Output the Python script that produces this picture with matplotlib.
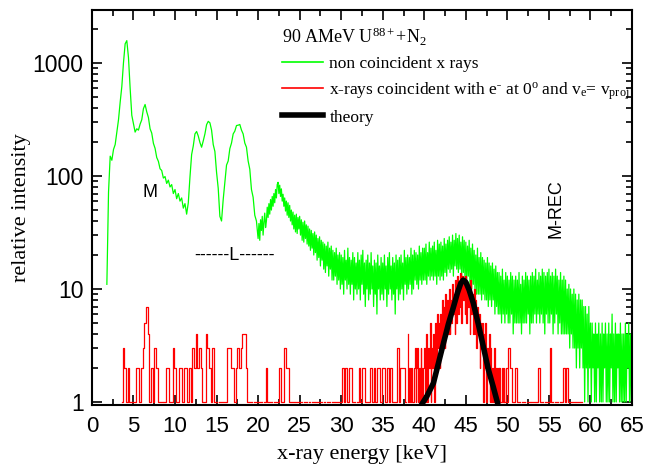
import numpy as np
import matplotlib
matplotlib.use("Agg")
import matplotlib.pyplot as plt
from matplotlib.lines import Line2D
from matplotlib.ticker import FixedLocator, NullFormatter, LogLocator

plt.rcParams['mathtext.fontset'] = 'custom'
plt.rcParams['mathtext.rm'] = 'Liberation Serif'
plt.rcParams['mathtext.it'] = 'Liberation Serif:italic'
plt.rcParams['mathtext.bf'] = 'Liberation Serif:bold'

# ---- data ----
# non coincident spectrum, 1.8-19.8 keV in 0.2 keV channels
green_low_start, green_low_step = 1.8, 0.2
green_low_counts = [
    11, 72, 150, 138, 172, 190, 245, 315, 450, 620,
    1010, 1480, 1580, 1120, 600, 345, 290, 245, 262, 255,
    288, 315, 395, 430, 370, 330, 262, 240, 195, 176,
    146, 135, 116, 112, 96, 99, 86, 92, 80, 84,
    70, 76, 63, 70, 60, 64, 52, 57, 46, 58,
    98, 155, 185, 236, 248, 226, 198, 180, 205, 236,
    285, 305, 296, 255, 190, 165, 108, 78, 44, 40,
    62, 88, 125, 136, 175, 196, 236, 250, 280, 282,
    286, 255, 236, 196, 180, 136, 115, 76, 65, 45,
    40,
]
# non coincident spectrum, 20.0-65.0 keV in 0.1 keV channels
green_high_start, green_high_step = 20.0, 0.1
green_high_counts = [
    28, 38, 27, 41, 33, 44, 30, 39, 47, 35,
    40, 53, 43, 57, 46, 62, 50, 66, 54, 70,
    58, 76, 64, 84, 88, 70, 83, 66, 77, 60,
    69, 54, 64, 49, 60, 45, 58, 43, 55, 40,
    50, 37, 48, 34, 45, 32, 46, 31, 43, 34,
    44, 30, 41, 27, 39, 26, 40, 28, 37, 25,
    36, 24, 34, 22, 33, 23, 31, 20, 32, 21,
    30, 18, 28, 19, 29, 16, 27, 18, 26, 15,
    25, 14, 24, 16, 26, 13, 23, 15, 24, 12,
    22, 12, 21, 13, 23, 11, 20, 12, 21, 10,
    20, 11, 19, 9, 22, 12, 18, 10, 23, 11,
    19, 9, 18, 11, 21, 8, 19, 10, 17, 9,
    21, 10, 18, 8, 20, 11, 22, 9, 17, 7,
    18, 10, 20, 8, 17, 9, 21, 10, 16, 7,
    18, 9, 17, 6, 20, 10, 16, 8, 19, 9,
    17, 8, 20, 10, 16, 7, 19, 9, 21, 10,
    16, 8, 19, 9, 17, 6, 20, 10, 18, 8,
    19, 9, 20, 10, 17, 8, 22, 11, 19, 9,
    20, 10, 19, 11, 23, 9, 20, 10, 22, 12,
    21, 11, 20, 10, 24, 12, 21, 11, 23, 12,
    23, 12, 25, 11, 21, 13, 26, 12, 23, 13,
    24, 12, 26, 13, 22, 11, 27, 13, 25, 12,
    26, 13, 24, 12, 28, 14, 25, 13, 27, 15,
    29, 14, 26, 15, 30, 13, 27, 16, 31, 15,
    28, 14, 30, 15, 26, 13, 29, 14, 27, 12,
    26, 12, 24, 13, 27, 11, 23, 10, 25, 11,
    22, 10, 20, 9, 23, 9, 19, 9, 21, 8,
    19, 9, 18, 8, 17, 8, 19, 7, 17, 8,
    16, 7, 17, 8, 15, 6, 16, 7, 14, 6,
    14, 6, 13, 5, 15, 6, 12, 5, 14, 6,
    13, 5, 12, 5, 14, 6, 13, 4, 12, 5,
    13, 5, 12, 5, 14, 5, 11, 4, 13, 5,
    12, 5, 14, 5, 13, 6, 12, 4, 13, 5,
    14, 5, 13, 6, 15, 5, 12, 6, 14, 5,
    13, 6, 15, 5, 14, 4, 13, 6, 14, 5,
    15, 5, 13, 6, 14, 4, 13, 5, 15, 6,
    13, 4, 12, 5, 14, 4, 12, 4, 13, 4,
    12, 4, 10, 4, 11, 3, 10, 4, 9, 3,
    10, 3, 9, 2, 8, 3, 9, 2, 8, 3,
    8, 2, 7, 1, 7, 2, 6, 1, 7, 2,
    5, 1, 5, 2, 4, 1, 5, 1, 4, 2,
    5, 1, 4, 1, 5, 1, 4, 2, 5, 1,
    4, 1, 5, 1, 4, 2, 6, 1, 4, 1,
    5, 1, 4, 2, 4, 1, 5, 1, 4, 1,
    4, 1, 5, 1, 4, 2, 5, 1, 4, 1,
    3,
]

# coincident spectrum (0 = no count)
# 3.6-37.8 keV, 0.2 keV channels
red_low_start, red_low_step = 3.6, 0.2
red_low_counts = [
    1, 3, 2, 1, 2, 1, 1, 1, 1, 2,
    2, 1, 2, 3, 5, 7, 4, 1, 2, 1,
    3, 2, 1, 1, 1, 0, 1, 2, 2, 1,
    1, 3, 2, 1, 1, 2, 2, 1, 2, 2,
    1, 2, 1, 3, 2, 4, 2, 3, 2, 1,
    1, 4, 3, 2, 1, 3, 1, 1, 0, 1,
    1, 1, 1, 1, 3, 3, 2, 2, 1, 2,
    3, 2, 3, 4, 4, 2, 1, 1, 1, 0,
    1, 1, 1, 1, 1, 0, 1, 2, 1, 1,
    1, 0, 1, 1, 1, 2, 1, 1, 3, 2,
    2, 1, 1, 1, 0, 1, 1, 0, 1, 0,
    1, 1, 0, 1, 0, 1, 0, 1, 1, 0,
    1, 0, 1, 0, 1, 1, 0, 1, 0, 1,
    1, 0, 1, 2, 1, 2, 1, 2, 2, 1,
    1, 0, 1, 2, 1, 2, 2, 1, 1, 1,
    2, 1, 2, 1, 2, 2, 1, 2, 2, 1,
    2, 1, 2, 1, 1, 1, 3, 1, 2, 2,
    2, 1,
]
# 38.0-49.9 keV, 0.1 keV channels
red_peak_start, red_peak_step = 38.0, 0.1
red_peak_counts = [
    4, 1, 2, 1, 2, 2, 1, 1, 2, 3,
    1, 2, 3, 1, 2, 1, 3, 2, 1, 2,
    3, 1, 2, 4, 1, 3, 2, 5, 1, 3,
    2, 4, 1, 5, 3, 2, 6, 3, 5, 2,
    6, 3, 8, 4, 7, 3, 9, 5, 8, 4,
    10, 4, 8, 5, 11, 6, 9, 4, 12, 5,
    13, 6, 11, 7, 14, 5, 13, 8, 12, 6,
    13, 5, 11, 7, 10, 4, 12, 6, 9, 4,
    10, 4, 8, 3, 7, 4, 6, 2, 5, 3,
    5, 1, 4, 2, 5, 1, 3, 2, 4, 1,
    3, 1, 2, 1, 3, 2, 1, 2, 1, 2,
    1, 2, 1, 1, 2, 1, 2, 1, 1, 2,
]
# 50.0-59.0 keV, 0.2 keV channels
red_tail_start, red_tail_step = 50.0, 0.2
red_tail_counts = [
    1, 3, 2, 1, 1, 2, 1, 1,
    0, 1, 1, 0, 1, 1, 0, 1, 1, 0,
    1, 2, 1, 1, 0, 1, 1, 1, 3, 1,
    0, 1, 1, 0, 1, 1, 2, 1, 2, 1,
    0, 1, 1, 0, 1, 1, 0, 1,
]

theory_energy = [39.6, 40.3, 41.1, 41.7, 42.3, 42.9, 43.5, 44.0, 44.4, 44.7,
                 45.0, 45.4, 45.9, 46.5, 47.1, 47.7, 48.3, 48.9]
theory_value = [0.93, 1.12, 1.47, 2.2, 3.3, 4.9, 6.9, 9.3, 11.3, 12.0,
                11.5, 9.8, 7.5, 4.9, 3.1, 1.95, 1.36, 0.93]

x_ticks = [0, 5, 10, 15, 20, 25, 30, 35, 40, 45, 50, 55, 60, 65]
y_ticks = [1, 10, 100, 1000]
y_ticklabels = ["1", "10", "100", "1000"]

title_text = "90 AMeV U$^{\\mathrm{88+}}$+N$_{\\mathrm{2}}$"
label_green = "non coincident x rays"
label_red = "x-rays coincident with e$^{\\mathrm{\u02d7}}$ at 0$^{\\mathrm{o}}$ and v$_{\\mathrm{e}}$= v$_{\\mathrm{proj}}$"
label_theory = "theory"

# ---- figure ----
fig = plt.figure(figsize=(6.66, 4.68), dpi=100)
ax = fig.add_axes([0.138, 0.1346, 0.811, 0.844])

ge = np.concatenate([green_low_start + green_low_step * np.arange(len(green_low_counts)),
                     green_high_start + green_high_step * np.arange(len(green_high_counts))])
gv = np.array(green_low_counts + green_high_counts, dtype=float)
ax.plot(ge, gv, color="#00ff00", lw=0.9)

for start, step, counts in [(red_low_start, red_low_step, red_low_counts),
                            (red_peak_start, red_peak_step, red_peak_counts),
                            (red_tail_start, red_tail_step, red_tail_counts)]:
    re = start + step * np.arange(len(counts))
    rv = np.array(counts, dtype=float)
    rv[rv <= 0] = np.nan
    ax.plot(re, rv, color="#ff0000", lw=0.9, drawstyle="steps-mid")

ax.plot(theory_energy, theory_value, color="black", lw=4, solid_capstyle="round")

ax.set_yscale("log")
ax.set_xlim(0, 65)
ax.set_ylim(0.94, 2950)

ax.xaxis.set_major_locator(FixedLocator(x_ticks))
ax.xaxis.set_minor_locator(FixedLocator([2.5 + 5 * i for i in range(13)]))
ax.yaxis.set_major_locator(FixedLocator(y_ticks))
ax.yaxis.set_minor_locator(LogLocator(base=10, subs=np.arange(2, 10)))
ax.yaxis.set_minor_formatter(NullFormatter())
ax.set_xticklabels([str(t) for t in x_ticks], fontfamily="Liberation Sans", fontsize=16)
ax.set_yticklabels(y_ticklabels, fontfamily="Liberation Sans", fontsize=16.5)

ax.tick_params(which="both", direction="in", top=True, right=True, width=1.2)
ax.tick_params(which="major", length=7)
ax.tick_params(axis="x", which="major", pad=8)
ax.tick_params(axis="y", which="major", pad=6)
ax.tick_params(which="minor", length=4)
for s in ax.spines.values():
    s.set_linewidth(1.5)

ax.set_xlabel("x-ray energy [keV]", fontfamily="Liberation Serif", fontsize=16, labelpad=6)
ax.set_ylabel("relative intensity", fontfamily="Liberation Serif", fontsize=16, labelpad=1)

ax.text(7.0, 72, "M", fontfamily="Liberation Sans", fontsize=13, ha="center", va="center")
ax.text(17.2, 19.6, "------L------", fontfamily="Liberation Sans", fontsize=13, ha="center", va="center")
ax.text(55.9, 51, "M-REC", fontfamily="Liberation Sans", fontsize=13, ha="center", va="center",
        rotation=90)

handles = [Line2D([], [], color="#00ff00", lw=1.2),
           Line2D([], [], color="#ff0000", lw=1.2),
           Line2D([], [], color="black", lw=4)]
leg = ax.legend(handles, [label_green, label_red, label_theory], title=title_text,
                loc="upper left", bbox_to_anchor=(0.345, 0.968), frameon=False,
                prop={"family": "Liberation Serif", "size": 12.5},
                title_fontproperties={"family": "Liberation Serif", "size": 13},
                alignment="left", handlelength=2.4, handletextpad=0.35,
                labelspacing=0.45, borderpad=0.2, borderaxespad=0)

fig.savefig("out.png", dpi=100)
